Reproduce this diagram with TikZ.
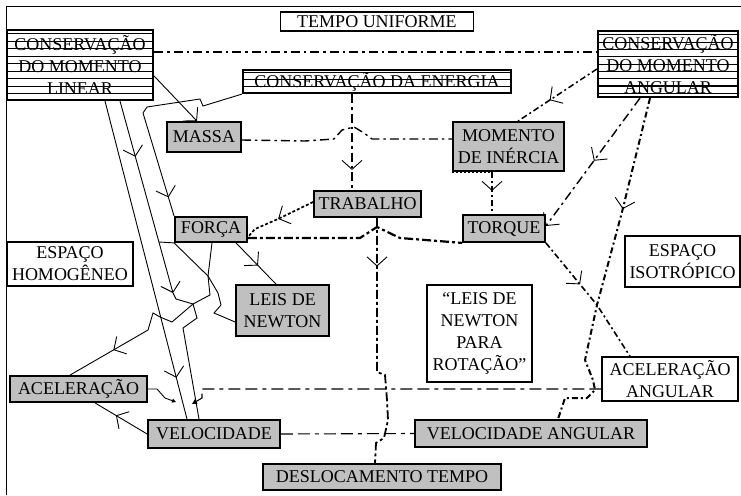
\documentclass[tikz,border=0pt]{standalone}
\usepackage{fontspec}
\setmainfont{Liberation Serif}
\usetikzlibrary{arrows.meta,decorations.markings,calc}
\definecolor{boxgray}{RGB}{192,192,192}
\tikzset{
 ybarb/.tip={Straight Barb[length=9pt,width=20pt,line width=0.9pt]},
 box/.style={draw, inner sep=0pt, align=center, font=\fontsize{18}{22}\selectfont},
 gbox/.style={box, fill=boxgray, line width=1.8pt},
 wbox/.style={box, fill=white, line width=1.4pt},
 sbox/.style={box, fill=white, line width=2.2pt},
 stripe/.style={line width=1.1pt},
 conn/.style={line width=0.9pt},
 dd/.style={line width=1.1pt, dash pattern=on 9pt off 4pt on 2.5pt off 4pt},
 hdd/.style={line width=2.2pt, dash pattern=on 9pt off 3pt on 3pt off 3pt},
 hdash/.style={line width=1.8pt, dash pattern=on 6pt off 3pt on 2pt off 3pt},
 dsh/.style={line width=1.1pt, dash pattern=on 12pt off 5pt on 12pt off 5pt on 4pt off 5pt},
 dotline/.style={line width=1.7pt, dash pattern=on 3pt off 2pt},
 fwd/.style={postaction={decorate}, decoration={markings, mark=at position #1 with {\arrow{ybarb}}}},
}
\begin{document}
\begin{tikzpicture}[x=1pt,y=-1pt]
\useasboundingbox (0,0) rectangle (741,495);
\fill[white] (0,0) rectangle (741,495);
\draw[line width=1pt] (6,495) -- (6,7) -- (741,7);

% nodes
\node[wbox, line width=1.2pt, minimum width=193pt, minimum height=19pt] (tempo) at (377,21.5) {TEMPO UNIFORME};
\node[sbox, minimum width=146pt, minimum height=70pt] (lin) at (80,65) {CONSERVAÇÃO\\DO MOMENTO\\LINEAR};
\node[sbox, minimum width=140pt, minimum height=66pt] (ang) at (668,64) {CONSERVAÇÃO\\DO MOMENTO\\ANGULAR};
\node[sbox, minimum width=268pt, minimum height=23pt] (ene) at (377,81.5) {CONSERVAÇÃO DA ENERGIA};
\node[gbox, minimum width=74pt, minimum height=30pt] (massa) at (204,137) {MASSA};
\node[gbox, minimum width=111pt, minimum height=49pt] (mom) at (508.5,146.5) {MOMENTO\\DE INÉRCIA};
\node[gbox, minimum width=107pt, minimum height=26pt] (trab) at (367.5,204) {TRABALHO};
\node[gbox, minimum width=72pt, minimum height=25pt] (forca) at (211,229.5) {FORÇA};
\node[gbox, minimum width=82pt, minimum height=27pt] (torque) at (504,228.5) {TORQUE};
\node[wbox, minimum width=126pt, minimum height=44pt] (homog) at (70,264) {ESPAÇO\\HOMOGÊNEO};
\node[gbox, minimum width=93pt, minimum height=51pt] (leis) at (282.5,310.5) {LEIS DE\\NEWTON};
\node[wbox, minimum width=115pt, minimum height=51pt] (iso) at (682.5,261.5) {ESPAÇO\\ISOTRÓPICO};
\node[wbox, minimum width=105pt, minimum height=97pt] (rot) at (479.5,333.5) {“LEIS DE\\NEWTON\\PARA\\ROTAÇÃO”};
\node[wbox, minimum width=136pt, minimum height=44pt] (acang) at (670,379) {ACELERAÇÃO\\ANGULAR};
\node[gbox, minimum width=137pt, minimum height=26pt] (acel) at (78.5,389) {ACELERAÇÃO};
\node[gbox, minimum width=132pt, minimum height=28pt] (vel) at (214,434) {VELOCIDADE};
\node[gbox, minimum width=232pt, minimum height=27pt] (velang) at (531,433.5) {VELOCIDADE ANGULAR};
\node[gbox, minimum width=238pt, minimum height=26pt] (desl) at (382,477) {DESLOCAMENTO TEMPO};

% stripes
\foreach \k in {0,...,8} \draw[stripe] ($(lin.north west)+(0,5+\k*7.5)$) -- ($(lin.north east)+(0,5+\k*7.5)$);
\foreach \k in {0,...,8} \draw[stripe] ($(ang.north west)+(0,5+\k*7.3)$) -- ($(ang.north east)+(0,5+\k*7.3)$);
\foreach \k in {0,...,2} \draw[stripe] ($(ene.north west)+(0,4+\k*7)$) -- ($(ene.north east)+(0,4+\k*7)$);
\draw[line width=2.6pt, dash pattern=on 2pt off 2pt] (mom.south west) -- (mom.south -| 490,0);

% connectors
\draw[dd] (lin.east |- 0,52) -- (ang.west |- 0,52);
\draw[conn, -{ybarb}] (lin.east |- 0,76) -- (massa.north -| 197,0);
\draw[conn, fwd=0.91] (ene.south west) -- (203,106) -- (200,99) -- (147,107) -- (143,113) -- (forca.north west);
\draw[conn, fwd=0.87] (lin.south -| 105,0) -- (vel.north -| 187,0);
\draw[conn, fwd=0.29, -{ybarb}] (lin.south -| 120,0) -- (173,293);
\draw[conn] (forca.south west) -- (208,276) -- (210,295) -- (193,304) -- (176,299) -- (173,293);
\draw[conn] (193,304) -- (197,318) -- (183,328) -- (vel.north -| 199,0);
\draw[conn, fwd=0.68] (193,304) -- (172,322) -- (160,317) -- (153,313) -- (148,330) -- (acel.north -| 70,0);
\draw[conn] (forca.south -| 212,0) -- (208,276) -- (218,293) -- (221,305) -- (214,313) -- (leis.west |- 0,322);
\draw[conn] (forca.south west) -- (159,242);
\draw[conn, fwd=0.55] (forca.south east -| 236,0) -- (leis.north -| 276,0);
\draw[conn, -{Triangle[length=4pt,width=4pt]}] (acel.east) -- (157,389) -- (165,398) -- (176,402);
\draw[conn, fwd=0.6] (vel.west) -- (acel.south -| 95,0);
\draw[dsh, -{Triangle[length=5pt,width=5pt]}] (acang.west |- 0,389) -- (202,389) -- (202,398) -- (192,404);
\draw[dsh] (vel.east) -- (velang.west);
\draw[dd, fwd=0.79] (ene.south -| 352,0) -- (trab.north -| 352,0);
\draw[dd, line width=1.4pt] (massa.east |- 0,140) -- (305,141) -- (334,139) -- (342,130) -- (354,127) -- (364,133) -- (372,139) -- (mom.west |- 0,139);
\draw[dotline, fwd=0.52] (trab.west |- 0,202) -- (278,219) -- (255,229) -- (forca.east |- 0,237);
\draw[hdd] (forca.east |- 0,238) -- (360,238) -- (377,227) -- (400,238) -- (torque.south west);
\draw[hdd, line width=1.8pt, fwd=0.19] (trab.south -| 377,0) -- (377,372) -- (385,375) -- (387,400) -- (388,420) -- (384,438) -- (376,443) -- (desl.north -| 375,0);
\draw[hdash, line width=2.2pt, fwd=0.45] (mom.south -| 492,0) -- (torque.north -| 492,0);
\draw[hdash, line width=1.5pt, fwd=0.6] (ang.west |- 0,69) -- (mom.north -| 518,0);
\draw[dd, line width=1.4pt, fwd=0.49, -{ybarb}] (ang.south -| 640,0) -- (torque.east |- 0,226);
\draw[hdash, line width=2pt, fwd=0.32] (ang.south -| 650,0) -- (622,212) -- (597,305) -- (585,360) -- (593,380) -- (595,390) -- (587,398) -- (565,398) -- (velang.north -| 558,0);
\draw[hdash, line width=1.6pt, fwd=0.38] (torque.south east) -- (597,305) -- (acang.north -| 630,0);
\end{tikzpicture}
\end{document}
